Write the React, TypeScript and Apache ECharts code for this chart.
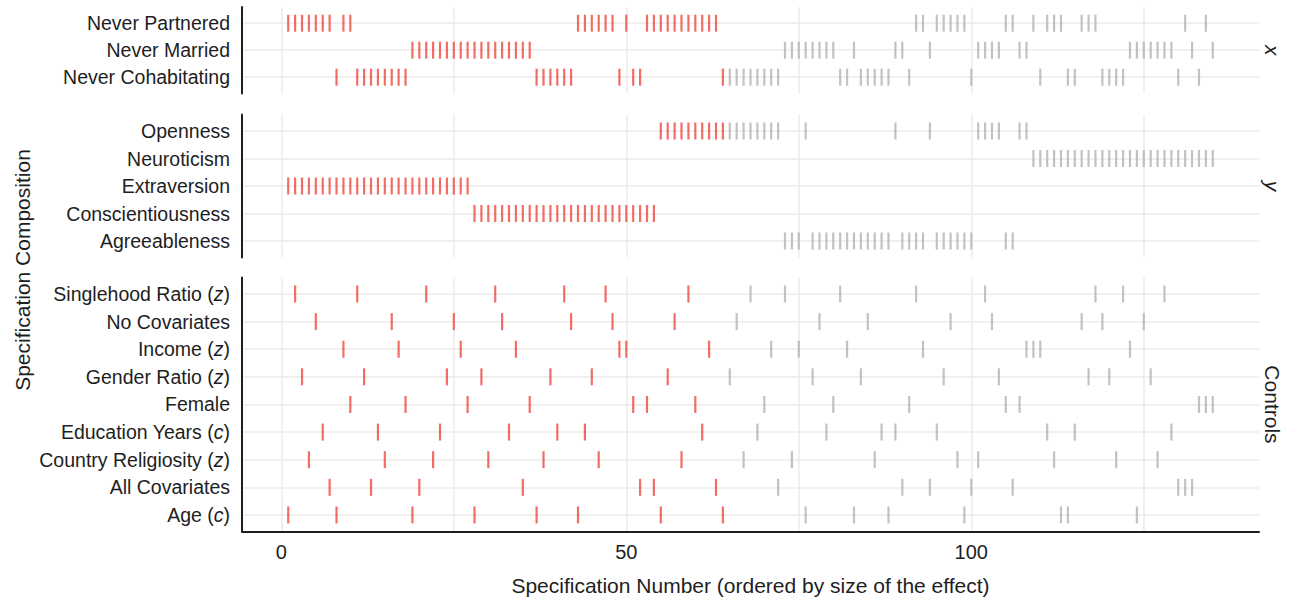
import React, { useEffect, useRef } from "react";
import * as echarts from "echarts";

// ---------- data (specification numbers per composition row) ----------
const xCategories = ["Never Partnered", "Never Married", "Never Cohabitating"];
const neverPartnered = [1, 2, 3, 4, 5, 6, 7, 9, 10, 43, 44, 45, 46, 47, 48, 50, 53, 54, 55, 56, 57, 58, 59, 60, 61, 62, 63, 92, 93, 95, 96, 97, 98, 99, 105, 106, 109, 111, 112, 113, 116, 117, 118, 131, 134];
const neverMarried = [19, 20, 21, 22, 23, 24, 25, 26, 27, 28, 29, 30, 31, 32, 33, 34, 35, 36, 73, 74, 75, 76, 77, 78, 79, 80, 83, 89, 90, 94, 101, 102, 103, 104, 107, 108, 123, 124, 125, 126, 127, 128, 129, 132, 135];
const neverCohabitating = [8, 11, 12, 13, 14, 15, 16, 17, 18, 37, 38, 39, 40, 41, 42, 49, 51, 52, 64, 65, 66, 67, 68, 69, 70, 71, 72, 81, 82, 84, 85, 86, 87, 88, 91, 100, 110, 114, 115, 119, 120, 121, 122, 130, 133];

const yCategories = ["Openness", "Neuroticism", "Extraversion", "Conscientiousness", "Agreeableness"];
const openness = [55, 56, 57, 58, 59, 60, 61, 62, 63, 64, 65, 66, 67, 68, 69, 70, 71, 72, 76, 89, 94, 101, 102, 103, 104, 107, 108];
const neuroticism = [109, 110, 111, 112, 113, 114, 115, 116, 117, 118, 119, 120, 121, 122, 123, 124, 125, 126, 127, 128, 129, 130, 131, 132, 133, 134, 135];
const extraversion = [1, 2, 3, 4, 5, 6, 7, 8, 9, 10, 11, 12, 13, 14, 15, 16, 17, 18, 19, 20, 21, 22, 23, 24, 25, 26, 27];
const conscientiousness = [28, 29, 30, 31, 32, 33, 34, 35, 36, 37, 38, 39, 40, 41, 42, 43, 44, 45, 46, 47, 48, 49, 50, 51, 52, 53, 54];
const agreeableness = [73, 74, 75, 77, 78, 79, 80, 81, 82, 83, 84, 85, 86, 87, 88, 90, 91, 92, 93, 95, 96, 97, 98, 99, 100, 105, 106];

// control labels: [text, italic suffix]
const controlCategories: [string, string][] = [
  ["Singlehood Ratio", "z"],
  ["No Covariates", ""],
  ["Income", "z"],
  ["Gender Ratio", "z"],
  ["Female", ""],
  ["Education Years", "c"],
  ["Country Religiosity", "z"],
  ["All Covariates", ""],
  ["Age", "c"],
];
const singlehoodRatio = [2, 11, 21, 31, 41, 47, 59, 68, 73, 81, 92, 102, 118, 122, 128];
const noCovariates = [5, 16, 25, 32, 42, 48, 57, 66, 78, 85, 97, 103, 116, 119, 125];
const income = [9, 17, 26, 34, 49, 50, 62, 71, 75, 82, 93, 108, 109, 110, 123];
const genderRatio = [3, 12, 24, 29, 39, 45, 56, 65, 77, 84, 96, 104, 117, 120, 126];
const female = [10, 18, 27, 36, 51, 53, 60, 70, 80, 91, 105, 107, 133, 134, 135];
const educationYears = [6, 14, 23, 33, 40, 44, 61, 69, 79, 87, 89, 95, 111, 115, 129];
const countryReligiosity = [4, 15, 22, 30, 38, 46, 58, 67, 74, 86, 98, 101, 112, 121, 127];
const allCovariates = [7, 13, 20, 35, 52, 54, 63, 72, 90, 94, 100, 106, 130, 131, 132];
const age = [1, 8, 19, 28, 37, 43, 55, 64, 76, 83, 88, 99, 113, 114, 124];

// specifications 1..64 are significant (red)
const lastSignificantSpec = 64;

const xTickValues = [0, 25, 50, 75, 100, 125];
const xLabelValues = [0, 50, 100];

// ---------- styling ----------
const FONT = "'Liberation Sans', Arial, sans-serif";
const RED = "#ee4a40";
const GREY = "#b3b3b3";
const TEXT = "#1e1e1e";
const GRIDLINE = "#ebebeb";

const PANEL_LEFT = 242;
const PANEL_WIDTH = 1017;
const X_MIN = -5.7;
const X_MAX = 141.7;
const LABEL_SIZE = 19.5;

export default function App() {
  const ref = useRef<HTMLDivElement>(null);

  useEffect(() => {
    document.body.style.margin = "0";
    if (!ref.current) return;
    const chart = echarts.init(ref.current, null, { renderer: "svg" });

    const panels = [
      {
        labels: xCategories.map((c) => c),
        rows: [neverPartnered, neverMarried, neverCohabitating],
        strip: "x",
        top: 7,
        rowGap: 27,
      },
      {
        labels: yCategories.map((c) => c),
        rows: [openness, neuroticism, extraversion, conscientiousness, agreeableness],
        strip: "y",
        top: 114.5,
        rowGap: 27.5,
      },
      {
        labels: controlCategories.map(([t, it]) => (it ? `${t} ({i|${it}})` : t)),
        rows: [singlehoodRatio, noCovariates, income, genderRatio, female, educationYears, countryReligiosity, allCovariates, age],
        strip: "Controls",
        top: 277.4,
        rowGap: 27.62,
      },
    ];

    const grids: any[] = [];
    const xAxes: any[] = [];
    const yAxes: any[] = [];
    const series: any[] = [];
    const graphics: any[] = [];

    panels.forEach((p, i) => {
      const n = p.rows.length;
      const height = (n + 0.2) * p.rowGap;
      const isLast = i === panels.length - 1;
      grids.push({ left: PANEL_LEFT, top: p.top, width: PANEL_WIDTH, height });
      xAxes.push({
        type: "value",
        gridIndex: i,
        min: X_MIN,
        max: X_MAX,
        axisLine: { show: isLast, onZero: false, lineStyle: { color: TEXT, width: 2 } },
        axisTick: { show: false, customValues: xTickValues },
        axisLabel: {
          show: isLast,
          customValues: xLabelValues,
          fontSize: 20,
          color: TEXT,
          fontFamily: FONT,
          margin: 10,
        },
        splitLine: { show: true, lineStyle: { color: GRIDLINE, width: 1.5 } },
        name: isLast ? "Specification Number (ordered by size of the effect)" : "",
        nameLocation: "middle",
        nameGap: 43,
        nameTextStyle: { fontSize: 21, color: TEXT, fontFamily: FONT },
      });
      const rowValues = p.rows.map((_, r) => r + 1);
      yAxes.push({
        type: "value",
        gridIndex: i,
        inverse: true,
        min: 0.4,
        max: n + 0.6,
        axisLine: { show: true, onZero: false, lineStyle: { color: TEXT, width: 2 } },
        axisTick: { show: false, customValues: rowValues },
        axisLabel: {
          customValues: rowValues,
          fontSize: LABEL_SIZE,
          color: TEXT,
          fontFamily: FONT,
          margin: 12,
          formatter: (v: number) => p.labels[Math.round(v) - 1] ?? "",
          rich: {
            i: { fontStyle: "italic", fontSize: LABEL_SIZE, color: TEXT, fontFamily: FONT },
          },
        },
        splitLine: { show: true, lineStyle: { color: GRIDLINE, width: 1.5 } },
      });
      const data: any[] = [];
      p.rows.forEach((specs, r) => {
        specs.forEach((s) => {
          data.push({
            value: [s, r + 1],
            itemStyle: { color: s <= lastSignificantSpec ? RED : GREY },
          });
        });
      });
      series.push({
        type: "scatter",
        xAxisIndex: i,
        yAxisIndex: i,
        symbol: "rect",
        symbolSize: [2.2, 17],
        silent: true,
        data,
      });
      graphics.push({
        type: "text",
        x: 1272,
        y: p.top + height / 2,
        rotation: -Math.PI / 2,
        style: {
          text: p.strip,
          fontSize: 21,
          fontStyle: p.strip === "Controls" ? "normal" : "italic",
          fontFamily: FONT,
          fill: TEXT,
          align: "center",
          verticalAlign: "middle",
        },
      });
    });

    graphics.push({
      type: "text",
      x: 22,
      y: 270,
      rotation: Math.PI / 2,
      style: {
        text: "Specification Composition",
        fontSize: 21,
        fontFamily: FONT,
        fill: TEXT,
        align: "center",
        verticalAlign: "middle",
      },
    });

    chart.setOption({
      animation: false,
      backgroundColor: "#ffffff",
      grid: grids,
      xAxis: xAxes,
      yAxis: yAxes,
      series,
      graphic: graphics,
    });

    return () => chart.dispose();
  }, []);

  return <div ref={ref} style={{ width: 1302, height: 602 }} />;
}
